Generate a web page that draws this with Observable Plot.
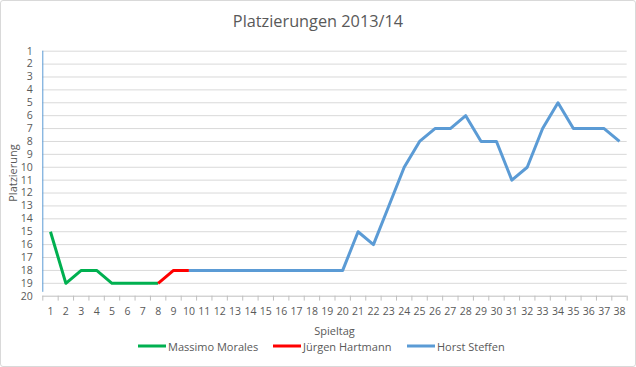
<!DOCTYPE html>
<html>
<head>
<meta charset="utf-8">
<script src="https://cdn.jsdelivr.net/npm/d3@7"></script>
<script src="https://cdn.jsdelivr.net/npm/@observablehq/plot@0.6"></script>
<style>
  body { margin: 0; background: #fff; }
  #wrap { position: relative; width: 636px; height: 367px; font-family: "Open Sans", sans-serif; color: #595959; overflow: hidden; }
  #wrap svg { position: absolute; left: 0; top: 0; }
  .abs { position: absolute; white-space: nowrap; }
  #title { left: 0; width: 636px; top: 10px; text-align: center; font-size: 16.3px; }
  #ytitle { left: 12px; top: 173px; font-size: 11px; transform: translate(-50%, -50%) rotate(-90deg); }
  #xtitle { left: 334.5px; top: 330px; font-size: 11px; transform: translate(-50%, -50%); }
  .leg { top: 346px; font-size: 11px; transform: translateY(-50%); display: flex; align-items: center; }
  .sw { display: inline-block; width: 28px; height: 3px; margin-right: 2px; }
  #border { left: 0; top: 0; width: 634px; height: 365px; border: 1px solid #d9d9d9; border-radius: 3px; pointer-events: none; }
</style>
</head>
<body>
<div id="wrap">
  <div id="chart"></div>
  <div id="title" class="abs">Platzierungen 2013/14</div>
  <div id="ytitle" class="abs">Platzierung</div>
  <div id="xtitle" class="abs">Spieltag</div>
  <div id="legend"></div>
  <div id="border" class="abs"></div>
</div>
<script>
// ---- data ----
const spieltage = [1,2,3,4,5,6,7,8,9,10,11,12,13,14,15,16,17,18,19,20,21,22,23,24,25,26,27,28,29,30,31,32,33,34,35,36,37,38];
const platzierung = [15,19,18,18,19,19,19,19,18,18,18,18,18,18,18,18,18,18,18,18,15,16,13,10,8,7,7,6,8,8,11,10,7,5,7,7,7,8];
const trainer = ["Massimo Morales", "Jürgen Hartmann", "Horst Steffen"];
const trainerVon = [1, 8, 10];
const trainerBis = [8, 10, 38];
const trainerFarbe = ["#00b050", "#ff0000", "#5b9bd5"];
const rangLabels = [1,2,3,4,5,6,7,8,9,10,11,12,13,14,15,16,17,18,19,20];

// ---- build table ----
const rows = [];
trainer.forEach((t, i) => {
  spieltage.forEach((s, j) => {
    if (s >= trainerVon[i] && s <= trainerBis[i]) rows.push({trainer: t, spieltag: s, platz: platzierung[j]});
  });
});
const tickPos = spieltage.map(s => s - 0.5).concat([spieltage[spieltage.length - 1] + 0.5]);
const gridRanks = rangLabels.slice(0, -1);
const bottomRank = rangLabels[rangLabels.length - 1];

const chart = Plot.plot({
  width: 636,
  height: 367,
  marginLeft: 42.3,
  marginRight: 9.3,
  marginTop: 50.7,
  marginBottom: 71.3,
  style: {fontFamily: "'Open Sans', sans-serif", color: "#595959", background: "transparent", overflow: "visible"},
  x: {type: "linear", domain: [0.5, 38.5]},
  y: {type: "linear", domain: [1, 20], reverse: true},
  color: {domain: trainer, range: trainerFarbe},
  marks: [
    Plot.ruleY(gridRanks, {stroke: "#d9d9d9", strokeWidth: 1}),
    Plot.ruleY([bottomRank], {stroke: "#bfbfbf", strokeWidth: 1}),
    Plot.ruleX(tickPos, {y1: bottomRank, y2: bottomRank + 0.38, stroke: "#bfbfbf", strokeWidth: 1}),
    Plot.ruleX([0.5], {y1: 1, y2: 19.7, stroke: "#5b9bd5", strokeWidth: 1}),
    Plot.line(rows, {x: "spieltag", y: "platz", z: "trainer", stroke: "trainer", strokeWidth: 3, strokeLinejoin: "round", strokeLinecap: "butt"}),
    Plot.axisX(spieltage, {tickSize: 0, tickPadding: 11, fontSize: 10.5, label: null}),
    Plot.axisY(rangLabels, {tickSize: 0, tickPadding: 10, fontSize: 10.5, label: null})
  ]
});
document.getElementById("chart").appendChild(chart);

// ---- legend ----
const legLeft = [138, 273, 407];
const legend = document.getElementById("legend");
trainer.forEach((t, i) => {
  const d = document.createElement("div");
  d.className = "abs leg";
  d.style.left = legLeft[i] + "px";
  d.innerHTML = `<span class="sw" style="background:${trainerFarbe[i]}"></span><span>${t}</span>`;
  legend.appendChild(d);
});
</script>
</body>
</html>
